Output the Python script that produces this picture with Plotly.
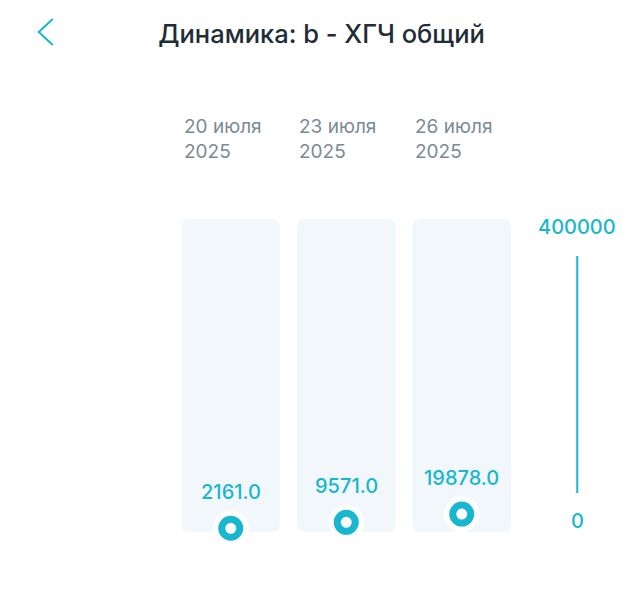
import plotly.graph_objects as go

# data
dates = ["20 июля<br>2025", "23 июля<br>2025", "26 июля<br>2025"]
values = [2161.0, 9571.0, 19878.0]
axis_ticks = [0, 400000]
title = "Динамика: b - ХГЧ общий"

CYAN = "#19b6cf"
PANEL = "#f1f7fa"
GREY = "#7a8a93"
FONT = "Inter"

# page body adds an 8px margin, so the figure is laid out in page px minus 8
OFF = 8
W, H = 643 - OFF, 600 - OFF
L, T, B = 173.25 - OFF, 180 - OFF, 40
PW, PH = 462, 380  # plot area size

# y scale: 0 -> 530px, 400000 -> 210px (0.0008 px per unit)
y_range = [-37500, 437500]
x_range = [-0.5, 3.5]
panel_w = 0.85
panel_y = [-2500, 388750]
axis_x = len(dates)


def rounded_rect(x0, x1, y0, y1, rx, ry):
    return (f"M {x0+rx},{y0} L {x1-rx},{y0} Q {x1},{y0} {x1},{y0+ry} "
            f"L {x1},{y1-ry} Q {x1},{y1} {x1-rx},{y1} "
            f"L {x0+rx},{y1} Q {x0},{y1} {x0},{y1-ry} "
            f"L {x0},{y0+ry} Q {x0},{y0} {x0+rx},{y0} Z")


def px(x):  # page px -> paper x
    return (x - OFF - L) / PW


def py(y):  # page px -> paper y
    return (T + PH - (y - OFF)) / PH


fig = go.Figure()

# background panels
shapes = []
for i in range(len(dates)):
    shapes.append(dict(type="path", xref="x", yref="y", layer="below",
                       path=rounded_rect(i - panel_w/2, i + panel_w/2,
                                         panel_y[0], panel_y[1], 0.07, 10000),
                       fillcolor=PANEL, line=dict(width=0)))

# right axis line
shapes.append(dict(type="line", xref="x", yref="y", x0=axis_x, x1=axis_x,
                   y0=46250, y1=342500, line=dict(color=CYAN, width=2)))

# back chevron
shapes.append(dict(type="path", xref="paper", yref="paper",
                   path=f"M {px(53)},{py(19)} L {px(39)},{py(32)} L {px(53)},{py(45)}",
                   line=dict(color=CYAN, width=2)))

xs = list(range(len(dates)))

# halo
fig.add_trace(go.Scatter(x=xs, y=values, mode="markers",
                         marker=dict(size=36, color="white"),
                         hoverinfo="skip", showlegend=False))
# ring markers
fig.add_trace(go.Scatter(x=xs, y=values, mode="markers",
                         marker=dict(size=18, color="white",
                                     line=dict(color=CYAN, width=7)),
                         showlegend=False))

annotations = []
for i, v in enumerate(values):
    annotations.append(dict(x=i, y=v, xref="x", yref="y", text=f"{v:.1f}",
                            showarrow=False, yshift=36,
                            font=dict(family=FONT, size=20, color=CYAN, weight=500)))
    annotations.append(dict(x=i - panel_w/2, y=py(138.5), xref="x", yref="paper",
                            text=dates[i], showarrow=False, xanchor="left",
                            yanchor="middle", align="left",
                            font=dict(family=FONT, size=19, color=GREY)))

annotations.append(dict(x=axis_x, y=axis_ticks[1], xref="x", yref="y",
                        text=str(axis_ticks[1]), showarrow=False, yshift=-17,
                        font=dict(family=FONT, size=20, color=CYAN, weight=500)))
annotations.append(dict(x=axis_x, y=axis_ticks[0], xref="x", yref="y",
                        text=str(axis_ticks[0]), showarrow=False, yshift=9,
                        font=dict(family=FONT, size=20, color=CYAN, weight=500)))

fig.update_layout(
    width=W, height=H,
    margin=dict(l=L, r=W - L - PW, t=T, b=H - T - PH),
    paper_bgcolor="white", plot_bgcolor="white",
    title=dict(text=title, x=(321.5 - OFF) / W, xref="container", xanchor="center",
               y=1 - (34 - OFF) / H, yref="container", yanchor="middle",
               font=dict(family=FONT, size=25.5, color="#1e2d36", weight=500)),
    xaxis=dict(range=x_range, visible=False, fixedrange=True),
    yaxis=dict(range=y_range, visible=False, fixedrange=True),
    shapes=shapes,
    annotations=annotations,
    showlegend=False,
)

fig.write_html("out.html")
